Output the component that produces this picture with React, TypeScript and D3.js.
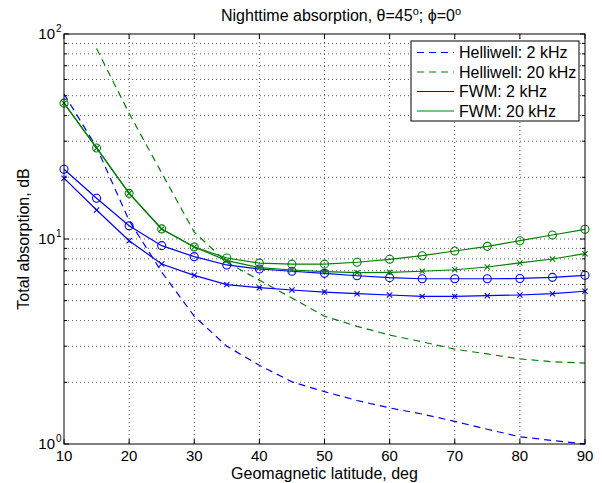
import React from 'react';
import * as d3 from 'd3';

const latitudes = [10, 15, 20, 25, 30, 35, 40, 45, 50, 55, 60, 65, 70, 75, 80, 85, 90];
const helliwell2kHz = [51, 28, 12.3, 6.9, 4.2, 3.0, 2.42, 2.01, 1.8, 1.63, 1.5, 1.4, 1.29, 1.18, 1.085, 1.04, 1.0];
const helliwell20kHzLat = [15, 20, 25, 30, 35, 40, 45, 50, 55, 60, 65, 70, 75, 80, 85, 90];
const helliwell20kHz = [85, 41, 21, 10.8, 7.7, 6.3, 5.15, 4.2, 3.75, 3.4, 3.15, 2.9, 2.75, 2.6, 2.52, 2.48];
const fwm2kHzCircle = [21.9, 15.8, 11.6, 9.28, 8.2, 7.47, 7.14, 6.96, 6.8, 6.62, 6.48, 6.4, 6.4, 6.4, 6.42, 6.5, 6.65];
const fwm2kHzCross = [19.8, 13.85, 9.81, 7.55, 6.65, 5.99, 5.79, 5.64, 5.51, 5.41, 5.33, 5.25, 5.25, 5.29, 5.33, 5.41, 5.56];
const fwm20kHzCircle = [46, 27.8, 16.7, 11.2, 9.14, 8.08, 7.63, 7.54, 7.54, 7.7, 7.96, 8.29, 8.74, 9.21, 9.81, 10.46, 11.15];
const fwm20kHzCross = [46, 27.8, 16.7, 11.2, 9.14, 7.85, 7.25, 7.06, 6.93, 6.85, 6.88, 6.96, 7.08, 7.3, 7.64, 7.99, 8.48];

const xTicks = [10, 20, 30, 40, 50, 60, 70, 80, 90];
const yMajor = [1, 10, 100];
const legendLabels = ['Helliwell: 2 kHz', 'Helliwell: 20 kHz', 'FWM: 2 kHz', 'FWM: 20 kHz'];

const BLUE = '#0000ff';
const GREEN = '#008000';
const FONT = '"Liberation Sans", Arial, Helvetica, sans-serif';

export default function App() {
  const W = 602, H = 483;
  const L = 64, R = 585, T = 34, B = 444;
  const x = d3.scaleLinear().domain([10, 90]).range([L, R]);
  const y = d3.scaleLog().domain([1, 100]).range([B, T]);

  const minorVals: number[] = [];
  [1, 10].forEach((d) => {
    for (let k = 2; k <= 9; k++) minorVals.push(d * k);
  });

  const line = d3
    .line<[number, number]>()
    .x((d) => x(d[0]))
    .y((d) => y(d[1]));

  const zip = (xs: number[], ys: number[]) => xs.map((v, i) => [v, ys[i]] as [number, number]);

  const dashed = '7,5';
  const LW = 1.2;
  const gridStyle = { stroke: '#000', strokeOpacity: 0.65, strokeWidth: 1, strokeDasharray: '1,3' };

  const circles = (ys: number[], color: string) =>
    latitudes.map((lat, i) => (
      <circle key={'c' + i} cx={x(lat)} cy={y(ys[i])} r={4} fill="none" stroke={color} strokeWidth={1.1} />
    ));
  const crosses = (ys: number[], color: string) =>
    latitudes.map((lat, i) => {
      const cx = x(lat), cy = y(ys[i]), s = 2.6;
      return (
        <path
          key={'x' + i}
          d={`M${cx - s},${cy - s}L${cx + s},${cy + s}M${cx - s},${cy + s}L${cx + s},${cy - s}`}
          stroke={color}
          strokeWidth={1.1}
          fill="none"
        />
      );
    });

  const legendX = 411, legendY = 41, legendW = 168, legendH = 80;
  const rowY = (i: number) => legendY + 11.5 + i * 19.5;
  const legendStyles = [
    { color: BLUE, dash: dashed },
    { color: GREEN, dash: dashed },
    { color: BLUE, dash: undefined },
    { color: GREEN, dash: undefined },
  ];

  return (
    <svg width={W} height={H} style={{ position: 'absolute', left: 0, top: 0, background: '#fff' }} fontFamily={FONT}>
      <rect x={0} y={0} width={W} height={H} fill="#fff" />
      {/* grid */}
      {xTicks.slice(1, -1).map((t) => (
        <line key={'gx' + t} x1={x(t)} x2={x(t)} y1={T} y2={B} {...gridStyle} />
      ))}
      {[...minorVals, 10].map((v) => (
        <line key={'gy' + v} x1={L} x2={R} y1={y(v)} y2={y(v)} {...gridStyle} />
      ))}
      {/* ticks */}
      {xTicks.map((t) => (
        <g key={'tx' + t}>
          <line x1={x(t)} x2={x(t)} y1={B} y2={B - 5} stroke="#000" />
          <line x1={x(t)} x2={x(t)} y1={T} y2={T + 5} stroke="#000" />
        </g>
      ))}
      {yMajor.map((v) => (
        <g key={'ty' + v}>
          <line x1={L} x2={L + 5} y1={y(v)} y2={y(v)} stroke="#000" />
          <line x1={R} x2={R - 5} y1={y(v)} y2={y(v)} stroke="#000" />
        </g>
      ))}
      {minorVals.map((v) => (
        <g key={'tm' + v}>
          <line x1={L} x2={L + 3} y1={y(v)} y2={y(v)} stroke="#000" />
          <line x1={R} x2={R - 3} y1={y(v)} y2={y(v)} stroke="#000" />
        </g>
      ))}
      {/* series */}
      <path d={line(zip(latitudes, helliwell2kHz)) || ''} fill="none" stroke={BLUE} strokeWidth={LW} strokeDasharray={dashed} />
      <path d={line(zip(helliwell20kHzLat, helliwell20kHz)) || ''} fill="none" stroke={GREEN} strokeWidth={LW} strokeDasharray={dashed} />
      <path d={line(zip(latitudes, fwm2kHzCircle)) || ''} fill="none" stroke={BLUE} strokeWidth={LW} />
      {circles(fwm2kHzCircle, BLUE)}
      <path d={line(zip(latitudes, fwm2kHzCross)) || ''} fill="none" stroke={BLUE} strokeWidth={LW} />
      {crosses(fwm2kHzCross, BLUE)}
      <path d={line(zip(latitudes, fwm20kHzCircle)) || ''} fill="none" stroke={GREEN} strokeWidth={LW} />
      {circles(fwm20kHzCircle, GREEN)}
      <path d={line(zip(latitudes, fwm20kHzCross)) || ''} fill="none" stroke={GREEN} strokeWidth={LW} />
      {crosses(fwm20kHzCross, GREEN)}
      {/* axes box */}
      <rect x={L} y={T} width={R - L} height={B - T} fill="none" stroke="#000" strokeWidth={1} />
      {/* x tick labels */}
      {xTicks.map((t) => (
        <text key={'lx' + t} x={x(t)} y={461} textAnchor="middle" fontSize={15}>
          {t}
        </text>
      ))}
      {/* y tick labels */}
      {yMajor.map((v, i) => (
        <text key={'ly' + v} x={55} y={y(v) + 5} textAnchor="end" fontSize={15}>
          10
          <tspan x={56} dy={-7} fontSize={10} textAnchor="start">
            {i}
          </tspan>
        </text>
      ))}
      {/* axis labels */}
      <text x={(L + R) / 2} y={479} textAnchor="middle" fontSize={16}>
        Geomagnetic latitude, deg
      </text>
      <text transform={`translate(29,${(T + B) / 2}) rotate(-90)`} textAnchor="middle" fontSize={16}>
        Total absorption, dB
      </text>
      {/* title */}
      <text x={341} y={21} textAnchor="middle" fontSize={16}>
        Nighttime absorption, θ=45<tspan dy={-6} fontSize={11}>o</tspan>
        <tspan dy={6}>; ϕ=0</tspan>
        <tspan dy={-6} fontSize={11}>o</tspan>
      </text>
      {/* legend */}
      <rect x={legendX} y={legendY} width={legendW} height={legendH} fill="#fff" stroke="#000" strokeWidth={1} />
      {legendLabels.map((lab, i) => (
        <g key={'lg' + i}>
          <line
            x1={legendX + 6}
            x2={legendX + 43}
            y1={rowY(i)}
            y2={rowY(i)}
            stroke={legendStyles[i].color}
            strokeWidth={LW}
            strokeDasharray={legendStyles[i].dash}
          />
          <text x={legendX + 48} y={rowY(i) + 5.5} fontSize={16}>
            {lab}
          </text>
        </g>
      ))}
    </svg>
  );
}
